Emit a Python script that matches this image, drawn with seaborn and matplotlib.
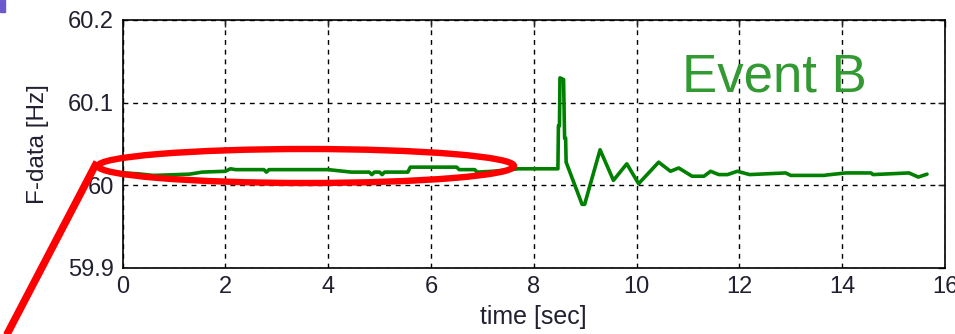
import matplotlib
matplotlib.use("Agg")
import matplotlib.pyplot as plt
import seaborn as sns
import pandas as pd
from matplotlib.patches import Ellipse, Rectangle
from matplotlib.lines import Line2D

# ---- data ----
time_sec = [0.0, 0.3, 0.6, 1.3, 1.55, 2.0, 2.1, 2.2, 2.75, 2.8, 2.85, 4.0,
            4.45, 4.8, 4.85, 4.9, 5.0, 5.05, 5.1, 5.55, 5.6, 6.5, 6.55, 6.85,
            6.9, 7.2, 7.7, 8.47, 8.48, 8.50, 8.51, 8.58, 8.60, 8.62, 8.63,
            8.94, 8.99, 9.29, 9.55, 9.81, 10.04, 10.43, 10.66, 10.82, 11.08,
            11.31, 11.44, 11.6, 11.77, 11.96, 12.2, 12.9, 13.0, 13.65, 13.7,
            14.07, 14.56, 14.6, 15.3, 15.48, 15.65]
freq_hz = [60.015, 60.014, 60.012, 60.0135, 60.016, 60.017, 60.020, 60.019,
           60.019, 60.016, 60.019, 60.019, 60.016, 60.016, 60.013, 60.016,
           60.016, 60.013, 60.016, 60.016, 60.022, 60.022, 60.019, 60.019,
           60.016, 60.017, 60.020, 60.020, 60.072, 60.072, 60.130, 60.128,
           60.057, 60.057, 60.028, 59.977, 59.977, 60.043, 60.006, 60.026,
           60.002, 60.028, 60.017, 60.021, 60.011, 60.011, 60.017, 60.013,
           60.013, 60.017, 60.013, 60.015, 60.012, 60.012, 60.0125, 60.015,
           60.015, 60.013, 60.015, 60.010, 60.0135]
x_ticks = [0, 2, 4, 6, 8, 10, 12, 14, 16]
y_ticks = [59.9, 60.0, 60.1, 60.2]
y_tick_labels = ["59.9", "60", "60.1", "60.2"]
annotation = "Event B"

df = pd.DataFrame({"time": time_sec, "freq": freq_hz})

sns.set_theme(style="white")
plt.rcParams["font.family"] = ["Liberation Sans", "DejaVu Sans"]

W, H = 955, 334
fig = plt.figure(figsize=(W / 100, H / 100), dpi=100)
fig.patch.set_facecolor("white")
ax = fig.add_axes([122.5 / W, 1 - 268 / H, 822.5 / W, 248 / H])

sns.lineplot(data=df, x="time", y="freq", ax=ax, sort=False,
             color="#008000", linewidth=2.6, estimator=None)

ax.set_xlim(0, 16)
ax.set_ylim(59.9, 60.2)
ax.set_xticks(x_ticks)
ax.set_yticks(y_ticks)
ax.set_yticklabels(y_tick_labels)
ax.grid(True, color="black", linestyle=(0, (3.5, 3.5)), linewidth=1.0)
ax.tick_params(axis="both", direction="in", length=5, width=1,
               top=True, right=True, labelsize=17, labelcolor="#202030",
               pad=6)
for s in ax.spines.values():
    s.set_color("black")
    s.set_linewidth(1.2)
ax.set_xlabel("time [sec]", fontsize=18, color="#202030", labelpad=5)
ax.set_ylabel("F-data [Hz]", fontsize=17.5, color="#202030", labelpad=14)
ax.set_facecolor("white")

ax.text(682 / W, 1 - 92 / H, annotation, transform=fig.transFigure,
        fontsize=38, color="#339933", ha="left", va="baseline")

# red callout ellipse and pointer line (figure overlay)
ell = Ellipse((306 / W, 1 - 166 / H), 416 / W, 34 / H, transform=fig.transFigure,
              fill=False, edgecolor="#ff0000", linewidth=4.6, zorder=10)
fig.add_artist(ell)
fig.add_artist(Line2D([97 / W, 4 / W], [1 - 162 / H, 1 - 340 / H],
                      transform=fig.transFigure, color="#ff0000",
                      linewidth=5.4, zorder=10, solid_capstyle="butt"))
fig.add_artist(Rectangle((0, 1 - 12 / H), 5 / W, 12 / H, transform=fig.transFigure,
                         color="#6a5acd", zorder=10))

fig.savefig("out.png", dpi=100)
